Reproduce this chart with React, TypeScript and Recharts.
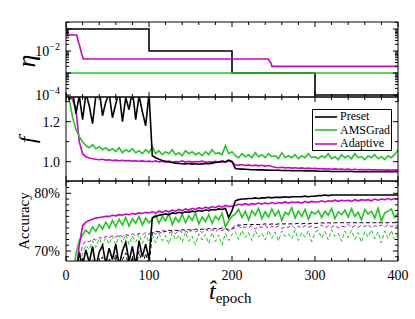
import React from "react";
import { LineChart, Line, XAxis, YAxis, Legend } from "recharts";

const FONT = "'Liberation Serif', 'DejaVu Serif', serif";
const BLACK = "#000000";
const GREEN = "#22c622";
const MAGENTA = "#d000d0";

const W = 415;
const H = 319;

// sampled every 4 epochs
const epochs = Array.from({ length: 101 }, (_, i) => i * 4);

// learning rate schedules
const etaPresetEpochs = [0, 100, 200, 300, 400];
const etaPreset = [0.1, 0.01, 0.001, 0.0001, 0.0001];
const etaAmsEpochs = [0, 400];
const etaAms = [0.001, 0.001];
const etaAdaptiveEpochs = [0, 2, 13, 15, 16, 18, 19, 21, 244, 245, 247, 248, 400];
const etaAdaptive = [0.15, 0.053, 0.053, 0.025, 0.02, 0.01, 0.007, 0.0043, 0.0043, 0.0035, 0.0029, 0.002, 0.002];

// loss f
const fPreset = [
  1.36, 1.31, 1.35, 1.24, 1.33, 1.21, 1.34, 1.28, 1.19, 1.33, 1.36, 1.23, 1.30, 1.34, 1.22, 1.29, 1.35, 1.20, 1.32, 1.26, 1.36, 1.21, 1.33, 1.25, 1.18, 1.34,
  1.030, 1.020, 1.012, 1.006, 1.002, 0.999, 0.996, 0.993, 0.991, 0.990, 0.989, 0.991, 0.988, 0.990, 0.987, 0.989, 0.991, 0.990, 0.993, 0.996, 0.998, 1.003, 0.999, 1.008, 1.002,
  0.966, 0.964, 0.963, 0.962, 0.961, 0.960, 0.960, 0.959, 0.959, 0.958, 0.958, 0.957, 0.957, 0.957, 0.956, 0.956, 0.956, 0.955, 0.955, 0.955, 0.955, 0.954, 0.954, 0.954, 0.954,
  0.952, 0.952, 0.952, 0.952, 0.951, 0.951, 0.951, 0.951, 0.951, 0.951, 0.951, 0.950, 0.950, 0.950, 0.950, 0.950, 0.950, 0.950, 0.950, 0.950, 0.950, 0.950, 0.950, 0.950, 0.950,
];
const fAms = [
  1.36, 1.31, 1.22, 1.16, 1.125, 1.10, 1.08, 1.07, 1.085, 1.065, 1.075, 1.06, 1.07, 1.055, 1.065, 1.05, 1.07, 1.045, 1.06, 1.05, 1.065, 1.045, 1.055, 1.04, 1.06, 1.045,
  1.075, 1.04, 1.055, 1.035, 1.05, 1.04, 1.06, 1.035, 1.045, 1.03, 1.055, 1.04, 1.05, 1.035, 1.045, 1.03, 1.05, 1.035, 1.06, 1.04, 1.045, 1.035, 1.08, 1.04, 1.05,
  1.03, 1.02, 1.04, 1.025, 1.035, 1.02, 1.045, 1.025, 1.035, 1.02, 1.04, 1.025, 1.03, 1.015, 1.045, 1.02, 1.03, 1.02, 1.035, 1.015, 1.03, 1.02, 1.04, 1.02, 1.025,
  1.015, 1.03, 1.02, 1.04, 1.015, 1.025, 1.01, 1.035, 1.02, 1.03, 1.015, 1.04, 1.02, 1.025, 1.01, 1.03, 1.02, 1.035, 1.015, 1.025, 1.01, 1.03, 1.02, 1.035, 1.06,
];
const fAdaptive = [
  1.34, 1.33, 1.31, 1.26, 1.10, 1.04, 1.025, 1.018, 1.015, 1.012, 1.010, 1.012, 1.008, 1.010, 1.006, 1.008, 1.005, 1.007, 1.004, 1.006, 1.003, 1.005, 1.002, 1.004, 1.001, 1.003,
  1.000, 1.004, 0.999, 1.002, 0.998, 1.003, 0.997, 1.001, 0.999, 1.004, 0.998, 1.002, 0.997, 1.001, 0.999, 1.003, 0.997, 1.000, 0.998, 1.002, 0.997, 1.000, 0.998, 1.003, 0.999,
  0.984, 0.983, 0.986, 0.981, 0.984, 0.980, 0.983, 0.979, 0.982, 0.978, 0.981, 0.976, 0.972, 0.970, 0.972, 0.969, 0.971, 0.968, 0.970, 0.967, 0.969, 0.966, 0.968, 0.966, 0.967,
  0.964, 0.966, 0.963, 0.965, 0.962, 0.964, 0.962, 0.963, 0.961, 0.963, 0.960, 0.962, 0.960, 0.961, 0.959, 0.961, 0.959, 0.960, 0.958, 0.960, 0.958, 0.959, 0.957, 0.959, 0.958,
];

// accuracy (%), solid = train, dashed = test
const accPreset = [
  60, 62, 66, 67, 69.5, 67.5, 70.2, 68.0, 70.8, 67.2, 69.8, 71.0, 67.8, 70.5, 68.5, 71.2, 67.5, 70.0, 71.5, 68.2, 70.8, 67.6, 71.8, 69.0, 71.2, 68.5,
  75.8, 76.0, 76.2, 76.3, 76.4, 76.3, 76.6, 76.5, 76.7, 76.6, 76.8, 76.7, 76.9, 76.8, 77.0, 76.9, 77.1, 77.0, 77.2, 77.1, 77.3, 77.2, 77.4, 75.8, 77.0,
  78.7, 78.9, 79.0, 79.0, 79.1, 79.1, 79.2, 79.1, 79.2, 79.2, 79.3, 79.2, 79.3, 79.3, 79.3, 79.4, 79.3, 79.4, 79.4, 79.4, 79.4, 79.5, 79.4, 79.5, 79.5,
  79.6, 79.6, 79.7, 79.6, 79.7, 79.7, 79.7, 79.7, 79.7, 79.7, 79.7, 79.7, 79.7, 79.7, 79.7, 79.7, 79.7, 79.7, 79.7, 79.7, 79.7, 79.7, 79.7, 79.7, 79.7,
];
const accAms = [
  60, 62, 65, 69.5, 71.8, 72.8, 73.6, 73.0, 74.2, 73.4, 74.6, 73.8, 75.0, 74.0, 75.3, 74.2, 75.5, 74.5, 75.8, 74.3, 75.6, 74.8, 76.0, 74.5, 75.7, 74.9,
  75.5, 76.3, 74.8, 76.0, 75.2, 76.5, 74.6, 75.8, 75.0, 76.4, 74.9, 76.1, 75.3, 76.6, 74.7, 75.9, 75.1, 76.3, 74.8, 76.0, 75.4, 76.5, 74.2, 75.2, 76.0,
  76.4, 77.2, 75.8, 76.9, 75.4, 77.0, 76.2, 77.4, 75.6, 76.8, 75.9, 77.3, 76.1, 77.0, 75.3, 76.7, 76.3, 77.5, 75.7, 76.9, 76.0, 77.2, 75.5, 76.8, 76.4,
  77.0, 75.8, 76.9, 76.2, 77.4, 75.6, 76.8, 76.3, 77.1, 75.9, 77.3, 76.0, 76.7, 75.4, 77.2, 76.4, 76.9, 75.7, 77.4, 75.2, 76.6, 76.9, 77.3, 75.8, 76.5,
];
const accAdaptive = [
  60, 62, 64, 66, 71.0, 74.4, 75.0, 75.3, 75.5, 75.7, 75.8, 75.9, 76.0, 76.0, 76.2, 76.1, 76.3, 76.2, 76.4, 76.3, 76.5, 76.4, 76.6, 76.5, 76.7, 76.6,
  76.8, 76.6, 76.9, 76.7, 77.0, 76.8, 77.1, 76.9, 77.2, 77.0, 77.3, 77.1, 77.4, 77.2, 77.5, 77.3, 77.6, 77.4, 77.7, 77.5, 77.8, 77.6, 77.9, 77.7, 77.8,
  77.9, 78.1, 78.0, 78.2, 78.0, 78.2, 78.1, 78.3, 78.1, 78.3, 78.2, 78.4, 78.2, 78.4, 78.3, 78.5, 78.3, 78.5, 78.4, 78.5, 78.3, 78.6, 78.4, 78.6, 78.5,
  78.5, 78.7, 78.5, 78.7, 78.6, 78.8, 78.6, 78.8, 78.7, 78.8, 78.6, 78.9, 78.7, 78.9, 78.8, 78.9, 78.7, 79.0, 78.8, 79.0, 78.9, 79.1, 78.9, 79.1, 79.0,
];
const accPresetTest = [
  58, 60, 63, 64, 66, 65.5, 67.8, 66.2, 68.6, 65.9, 67.9, 69.0, 66.4, 68.8, 67.0, 69.5, 66.1, 68.5, 69.7, 66.8, 69.1, 66.5, 70.0, 67.4, 69.6, 67.2,
  73.2, 73.4, 73.3, 73.5, 73.4, 73.6, 73.5, 73.6, 73.5, 73.7, 73.6, 73.7, 73.6, 73.8, 73.7, 73.8, 73.7, 73.9, 73.8, 73.9, 73.8, 74.0, 73.9, 73.7, 73.9,
  74.4, 74.5, 74.5, 74.6, 74.5, 74.6, 74.6, 74.6, 74.6, 74.7, 74.6, 74.7, 74.6, 74.7, 74.7, 74.7, 74.7, 74.7, 74.7, 74.8, 74.7, 74.8, 74.7, 74.8, 74.8,
  74.8, 74.9, 74.8, 74.9, 74.8, 74.9, 74.9, 74.9, 74.9, 74.9, 74.9, 74.9, 74.9, 74.9, 74.9, 74.9, 74.9, 74.9, 74.9, 74.9, 74.9, 74.9, 74.9, 74.9, 74.9,
];
const accAmsTest = [
  57, 59, 61, 63, 66.5, 69.5, 71.0, 70.2, 71.8, 70.6, 72.2, 70.9, 72.4, 71.2, 72.6, 71.0, 72.7, 71.4, 72.9, 71.1, 72.6, 71.5, 73.0, 71.3, 72.8, 71.6,
  72.9, 71.4, 73.1, 71.8, 72.7, 71.2, 73.2, 71.9, 72.8, 71.5, 73.3, 71.7, 72.6, 71.1, 73.0, 71.9, 72.9, 71.3, 73.2, 71.6, 72.8, 71.0, 73.1, 71.8, 72.9,
  73.4, 72.0, 73.6, 72.3, 73.2, 71.8, 73.5, 72.4, 73.1, 71.9, 73.6, 72.2, 73.3, 71.7, 73.5, 72.5, 73.0, 72.1, 73.7, 71.8, 73.2, 72.4, 73.5, 71.6, 73.3,
  73.6, 72.2, 73.4, 71.9, 73.7, 72.5, 73.1, 71.7, 73.5, 72.3, 73.6, 72.0, 73.2, 71.5, 73.4, 72.4, 73.7, 72.1, 73.3, 71.4, 73.5, 72.2, 73.6, 71.9, 72.8,
];
const accAdaptiveTest = [
  58, 60, 62, 64, 68.5, 71.0, 71.8, 71.6, 72.1, 71.9, 72.4, 72.1, 72.6, 72.3, 72.7, 72.4, 72.8, 72.5, 72.9, 72.6, 73.0, 72.7, 73.1, 72.8, 73.2, 72.9,
  73.3, 72.9, 73.4, 73.0, 73.5, 73.1, 73.4, 73.0, 73.6, 73.2, 73.5, 73.1, 73.7, 73.3, 73.6, 73.2, 73.8, 73.4, 73.7, 73.3, 73.8, 73.5, 73.9, 73.4, 73.8,
  74.0, 74.3, 73.9, 74.2, 74.0, 74.4, 73.8, 74.2, 74.1, 74.4, 73.9, 74.3, 74.0, 74.4, 73.9, 74.2, 74.1, 74.5, 73.9, 74.3, 74.0, 74.4, 74.1, 74.3, 74.0,
  74.2, 74.5, 74.0, 74.4, 74.1, 74.5, 74.0, 74.3, 74.2, 74.6, 74.0, 74.4, 74.1, 74.5, 74.2, 74.6, 74.0, 74.4, 74.2, 74.5, 74.1, 74.6, 74.2, 74.5, 74.3,
];

// axis ticks
const xTicks = [0, 20, 40, 60, 80, 100, 120, 140, 160, 180, 200, 220, 240, 260, 280, 300, 320, 340, 360, 380, 400];
const etaTicks = [
  0.00009, 0.0001, 0.0002, 0.0003, 0.0004, 0.0005, 0.0006, 0.0007, 0.0008, 0.0009,
  0.001, 0.002, 0.003, 0.004, 0.005, 0.006, 0.007, 0.008, 0.009,
  0.01, 0.02, 0.03, 0.04, 0.05, 0.06, 0.07, 0.08, 0.09, 0.1, 0.2,
];
const fTicks = [1.0, 1.1, 1.2, 1.3];
const accTicks = [69, 70, 71, 72, 73, 74, 75, 76, 77, 78, 79, 80, 81, 82];

const ETA_DOMAIN = [8.13e-5, 0.208];
const F_DOMAIN = [0.9035, 1.3235];
const ACC_DOMAIN = [68.27, 82.13];
const LEGEND_ORDER = ["Preset", "AMSGrad", "Adaptive"];

const pts = (xs: number[], ys: number[]) => xs.map((x, i) => ({ epoch: x, v: ys[i] }));

type Side = "bottom" | "top" | "left" | "right";

function makeTick(side: Side, isMajor: (v: number) => boolean, label?: (v: number) => React.ReactNode) {
  return (p: any) => {
    const { x, y } = p;
    const v = p.payload.value;
    const len = isMajor(v) ? 5 : 3;
    const dx = side === "left" ? len : side === "right" ? -len : 0;
    const dy = side === "bottom" ? -len : side === "top" ? len : 0;
    const text = label ? label(v) : null;
    return (
      <g>
        <line x1={x} y1={y} x2={x + dx} y2={y + dy} stroke={BLACK} strokeWidth={1} />
        {text != null && side === "bottom" && (
          <text x={x} y={y + 19} textAnchor="middle" fontFamily={FONT} fontSize={14} fill={BLACK}>
            {text}
          </text>
        )}
        {text != null && side === "left" && (
          <text x={x - 6} y={y + 5} textAnchor="end" fontFamily={FONT} fontSize={14} fill={BLACK}>
            {text}
          </text>
        )}
      </g>
    );
  };
}

const isDecade = (v: number) => Math.abs(Math.log10(v) - Math.round(Math.log10(v))) < 1e-6;
const xMajor = (v: number) => v % 100 === 0;
const xLabel = (v: number) => (v % 100 === 0 ? String(v) : null);
const etaLabel = (v: number) => {
  const k = Math.round(Math.log10(v));
  if (!isDecade(v) || (k !== -2 && k !== -4)) return null;
  return (
    <>
      <tspan>10</tspan>
      <tspan dy={-6} fontSize={10}>{`\u2212${-k}`}</tspan>
    </>
  );
};
const fMajor = (v: number) => Math.abs(v - 1.0) < 1e-6 || Math.abs(v - 1.2) < 1e-6;
const fLabel = (v: number) => (fMajor(v) ? v.toFixed(1) : null);
const accMajor = (v: number) => v === 70 || v === 80;
const accLabel = (v: number) => (accMajor(v) ? `${v}%` : null);

const axisLine = { stroke: BLACK, strokeWidth: 1 };

// axes need a non-zero size to be drawn, so they get 1px and the margins give the rest
function xAxes(labels: boolean) {
  return [
    <XAxis
      key="xb"
      type="number"
      dataKey="epoch"
      domain={[0, 400]}
      allowDataOverflow
      ticks={xTicks}
      interval={0}
      height={1}
      tickSize={0}
      tickMargin={0}
      tickLine={false}
      axisLine={axisLine}
      tick={makeTick("bottom", xMajor, labels ? xLabel : undefined)}
      label={
        labels
          ? {
              content: () => (
                <text x={209} y={299} fontFamily={FONT} fill={BLACK}>
                  <tspan fontStyle="italic" fontSize={24}>{"t\u0302"}</tspan>
                  <tspan fontSize={15} dy={4}>epoch</tspan>
                </text>
              ),
            }
          : undefined
      }
    />,
    <XAxis
      key="xt"
      xAxisId="t"
      orientation="top"
      type="number"
      dataKey="epoch"
      domain={[0, 400]}
      allowDataOverflow
      ticks={xTicks}
      interval={0}
      height={1}
      tickSize={0}
      tickMargin={0}
      tickLine={false}
      axisLine={axisLine}
      tick={makeTick("top", xMajor)}
    />,
  ];
}

function yAxes(
  domain: number[],
  ticks: number[],
  isMajor: (v: number) => boolean,
  label: (v: number) => React.ReactNode,
  title: React.ReactNode,
  log = false
) {
  return [
    <YAxis
      key="yl"
      type="number"
      scale={log ? "log" : "linear"}
      domain={domain}
      allowDataOverflow
      ticks={ticks}
      interval={0}
      width={66}
      tickSize={0}
      tickMargin={0}
      tickLine={false}
      axisLine={axisLine}
      tick={makeTick("left", isMajor, label)}
      label={{ content: () => title }}
    />,
    <YAxis
      key="yr"
      yAxisId="r"
      orientation="right"
      type="number"
      scale={log ? "log" : "linear"}
      domain={domain}
      allowDataOverflow
      ticks={ticks}
      interval={0}
      width={1}
      tickSize={0}
      tickMargin={0}
      tickLine={false}
      axisLine={axisLine}
      tick={makeTick("right", isMajor)}
    />,
  ];
}

const renderLegend = (props: any) => {
  const payload = props.payload || [];
  const items = LEGEND_ORDER.map((n) => payload.find((p: any) => p.value === n)).filter(Boolean);
  return (
    <div
      style={{
        boxSizing: "border-box",
        width: 80,
        height: 42,
        background: "#fff",
        border: "1px solid #000",
        padding: "0 0 0 2px",
        fontFamily: FONT,
        fontSize: 12,
        color: BLACK,
      }}
    >
      {items.map((it: any) => (
        <div key={it.value} style={{ display: "flex", alignItems: "center", height: 13.5 }}>
          <svg width={22} height={4} style={{ display: "block" }}>
            <line x1={0} y1={2} x2={22} y2={2} stroke={it.color} strokeWidth={1.6} />
          </svg>
          <span style={{ marginLeft: 3, lineHeight: "13.5px" }}>{it.value}</span>
        </div>
      ))}
    </div>
  );
};

const layer: React.CSSProperties = { position: "absolute", left: 0, top: 0 };

// plot box edges in page pixels
const LEFT = 66;
const RIGHT = 398;

function margins(top: number, bottom: number) {
  return { top: top - 1, bottom: H - bottom - 1, left: LEFT - 66, right: W - RIGHT - 1 };
}

export default function App() {
  const solid = { dot: false, activeDot: false, isAnimationActive: false, strokeWidth: 1.6 } as const;
  const dashed = { dot: false, activeDot: false, isAnimationActive: false, strokeWidth: 1, strokeDasharray: "4 2.5" } as const;

  return (
    <div style={{ position: "absolute", left: 0, top: 0, width: W, height: H, background: "#fff" }}>
      {/* learning rate */}
      <div style={layer}>
        <LineChart width={W} height={H} margin={margins(22, 97)}>
          {xAxes(false)}
          {yAxes(
            ETA_DOMAIN,
            etaTicks,
            isDecade,
            etaLabel,
            <text transform="translate(26,61) rotate(-90)" textAnchor="middle" dominantBaseline="central" fontFamily={FONT} fontStyle="italic" fontSize={26} fill={BLACK}>
              η
            </text>,
            true
          )}
          <Line data={pts(etaPresetEpochs, etaPreset)} dataKey="v" name="Preset" type="stepAfter" stroke={BLACK} {...solid} />
          <Line data={pts(etaAdaptiveEpochs, etaAdaptive)} dataKey="v" name="Adaptive" type="linear" stroke={MAGENTA} {...solid} />
          <Line data={pts(etaAmsEpochs, etaAms)} dataKey="v" name="AMSGrad" type="linear" stroke={GREEN} {...solid} />
        </LineChart>
      </div>

      {/* loss */}
      <div style={layer}>
        <LineChart width={W} height={H} margin={margins(97, 181)}>
          {xAxes(false)}
          {yAxes(
            F_DOMAIN,
            fTicks,
            fMajor,
            fLabel,
            <text transform="translate(27,140) rotate(-90)" textAnchor="middle" dominantBaseline="central" fontFamily={FONT} fontStyle="italic" fontSize={24} fill={BLACK}>
              f
            </text>
          )}
          <Line data={pts(epochs, fAdaptive)} dataKey="v" name="Adaptive" stroke={MAGENTA} {...solid} />
          <Line data={pts(epochs, fAms)} dataKey="v" name="AMSGrad" stroke={GREEN} {...solid} />
          <Line data={pts(epochs, fPreset)} dataKey="v" name="Preset" stroke={BLACK} {...solid} />
          <Legend
            layout="vertical"
            align="center"
            verticalAlign="middle"
            content={renderLegend}
            wrapperStyle={{ position: "absolute", left: 312, top: 109, width: 80, height: 42 }}
          />
        </LineChart>
      </div>

      {/* accuracy */}
      <div style={layer}>
        <LineChart width={W} height={H} margin={margins(181, 261)}>
          {xAxes(true)}
          {yAxes(
            ACC_DOMAIN,
            accTicks,
            accMajor,
            accLabel,
            <text transform="translate(24,221) rotate(-90)" textAnchor="middle" dominantBaseline="central" fontFamily={FONT} fontSize={15} fill={BLACK}>
              Accuracy
            </text>
          )}
          <Line data={pts(epochs, accAmsTest)} dataKey="v" stroke={GREEN} {...dashed} />
          <Line data={pts(epochs, accAdaptiveTest)} dataKey="v" stroke={MAGENTA} {...dashed} />
          <Line data={pts(epochs, accPresetTest)} dataKey="v" stroke={BLACK} {...dashed} />
          <Line data={pts(epochs, accAms)} dataKey="v" stroke={GREEN} {...solid} />
          <Line data={pts(epochs, accAdaptive)} dataKey="v" stroke={MAGENTA} {...solid} />
          <Line data={pts(epochs, accPreset)} dataKey="v" stroke={BLACK} {...solid} />
        </LineChart>
      </div>
    </div>
  );
}
